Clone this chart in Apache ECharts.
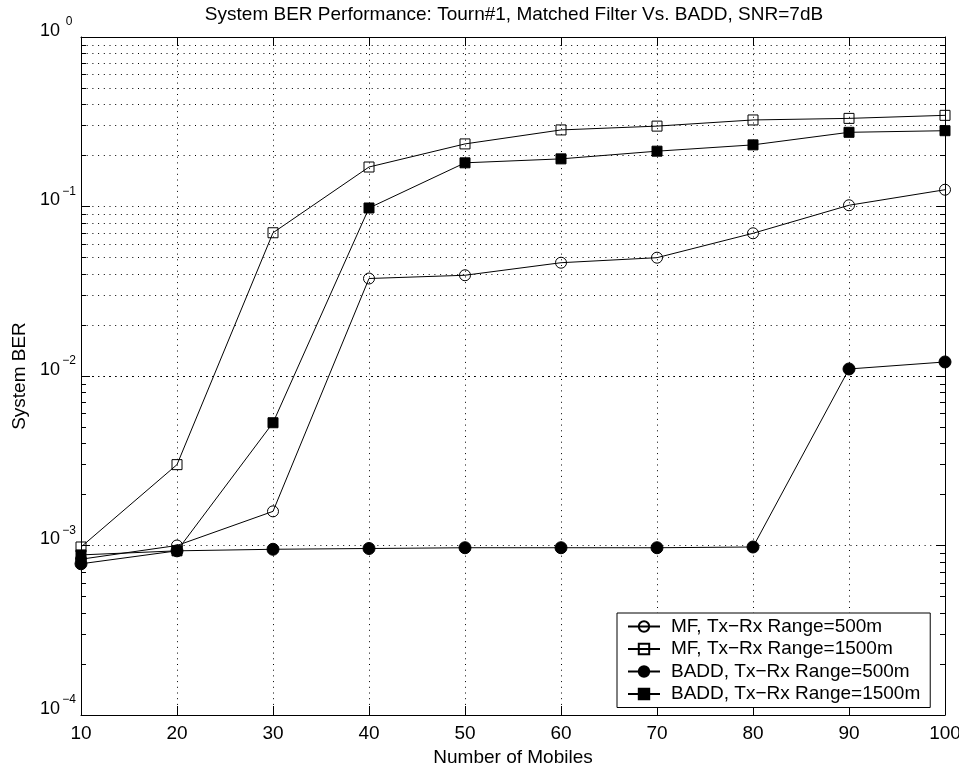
<!DOCTYPE html>
<html>
<head>
<meta charset="utf-8">
<script src="https://cdn.jsdelivr.net/npm/echarts@6/dist/echarts.min.js"></script>
<style>
  html, body { margin: 0; padding: 0; background: #fff; }
  #main { width: 959px; height: 768px; }
</style>
</head>
<body>
<div id="main"></div>
<script>
// data
const mobiles = [10, 20, 30, 40, 50, 60, 70, 80, 90, 100];
const mf500 = [0.00083, 0.00100, 0.00159, 0.0376, 0.0393, 0.0466, 0.0499, 0.0695, 0.1017, 0.1256];
const mf1500 = [0.00098, 0.0030, 0.070, 0.171, 0.234, 0.283, 0.298, 0.324, 0.331, 0.345];
const badd500 = [0.00078, 0.00093, 0.00095, 0.00096, 0.00097, 0.00097, 0.00097, 0.00098, 0.0110, 0.0121];
const badd1500 = [0.00088, 0.00093, 0.0053, 0.098, 0.181, 0.191, 0.212, 0.231, 0.274, 0.280];
const seriesNames = [
    'MF, Tx−Rx Range=500m',
    'MF, Tx−Rx Range=1500m',
    'BADD, Tx−Rx Range=500m',
    'BADD, Tx−Rx Range=1500m'
];
const yDecades = [1e-4, 1e-3, 1e-2, 1e-1, 1];
const xTicks = [10, 20, 30, 40, 50, 60, 70, 80, 90, 100];

const FONT = "'Liberation Sans', Arial, Helvetica, sans-serif";
const dots = [1, 4.7];

// minor log ticks 2..9 x decade
let minorVals = [];
for (let i = 0; i < yDecades.length - 1; i++) {
    for (let m = 2; m <= 9; m++) minorVals.push(m * yDecades[i]);
}
const xMin = xTicks[0], xMax = xTicks[xTicks.length - 1];
const minorLen = 0.52; // ~5px in x units

let minorLines = [];
minorVals.forEach(function (v) {
    minorLines.push({ yAxis: v, lineStyle: { type: dots, color: '#000', width: 1 } });
    minorLines.push([{ coord: [xMin, v], lineStyle: { type: 'solid', color: '#000', width: 1 } }, { coord: [xMin + minorLen, v] }]);
    minorLines.push([{ coord: [xMax - minorLen, v], lineStyle: { type: 'solid', color: '#000', width: 1 } }, { coord: [xMax, v] }]);
});

function pairs(ys) {
    return mobiles.map(function (x, i) { return [x, ys[i]]; });
}

function expLabel(v) {
    const e = Math.round(Math.log10(v));
    const s = e < 0 ? '−' + (-e) : String(e);
    return '{b|10}{s|' + s + '}';
}

const lineStyle = { color: '#000', width: 1 };
const openStyle = { color: 'rgba(255,255,255,0)', borderColor: '#000', borderWidth: 1 };
const fillStyle = { color: '#000', borderColor: '#000', borderWidth: 1 };

const myChart = echarts.init(document.getElementById('main'));
const option = {
    animation: false,
    backgroundColor: '#fff',
    textStyle: { fontFamily: FONT, color: '#000' },
    title: {
        text: 'System BER Performance: Tourn#1, Matched Filter Vs. BADD, SNR=7dB',
        left: 514,
        top: 5,
        padding: 0,
        textAlign: 'center',
        textStyle: { fontFamily: FONT, fontSize: 19, fontWeight: 'normal', color: '#000' }
    },
    grid: { left: 81, right: 14, top: 37, bottom: 53, outerBoundsMode: 'none', containLabel: false },
    legend: {
        data: seriesNames,
        orient: 'vertical',
        left: 617,
        top: 613,
        itemWidth: 32,
        itemHeight: 13,
        itemGap: 3.5,
        padding: [4, 10, 4, 10],
        backgroundColor: '#fff',
        borderColor: '#000',
        borderWidth: 1,
        borderRadius: 0,
        z: 10,
        textStyle: { fontFamily: FONT, fontSize: 19, color: '#000', padding: [0, 0, 0, 6] }
    },
    xAxis: [{
        type: 'value',
        min: 10, max: 100, interval: 10,
        name: 'Number of Mobiles',
        nameLocation: 'middle',
        nameGap: 22,
        nameTextStyle: { fontFamily: FONT, fontSize: 19, color: '#000' },
        axisLine: { lineStyle: { color: '#000', width: 1 } },
        axisTick: { inside: true, length: 9, lineStyle: { color: '#000' } },
        axisLabel: { margin: 9, fontFamily: FONT, fontSize: 19, color: '#000' },
        splitLine: { show: true, lineStyle: { type: dots, color: '#000', width: 1 } }
    }, {
        type: 'value',
        position: 'top',
        min: 10, max: 100, interval: 10,
        axisLine: { lineStyle: { color: '#000', width: 1 } },
        axisTick: { inside: true, length: 9, lineStyle: { color: '#000' } },
        axisLabel: { show: false },
        splitLine: { show: false }
    }],
    yAxis: [{
        type: 'log',
        logBase: 10,
        min: 1e-4, max: 1,
        name: 'System BER',
        nameLocation: 'middle',
        nameGap: 52,
        nameTextStyle: { fontFamily: FONT, fontSize: 19, color: '#000' },
        axisLine: { lineStyle: { color: '#000', width: 1 } },
        axisTick: { inside: true, length: 9, lineStyle: { color: '#000' } },
        axisLabel: {
            margin: 3,
            formatter: expLabel,
            rich: {
                b: { fontFamily: FONT, fontSize: 18, lineHeight: 18, color: '#000', verticalAlign: 'bottom', padding: [0, 0, 6, 0] },
                s: { fontFamily: FONT, fontSize: 12, lineHeight: 12, color: '#000', verticalAlign: 'bottom', width: 18, align: 'left', padding: [0, 0, 18, 0] }
            }
        },
        splitLine: { show: true, lineStyle: { type: dots, color: '#000', width: 1 } }
    }, {
        type: 'log',
        logBase: 10,
        min: 1e-4, max: 1,
        position: 'right',
        axisLine: { lineStyle: { color: '#000', width: 1 } },
        axisTick: { inside: true, length: 9, lineStyle: { color: '#000' } },
        axisLabel: { show: false },
        splitLine: { show: false }
    }],
    series: [{
        name: 'minor',
        type: 'line',
        data: [],
        silent: true,
        z: 1,
        markLine: {
            silent: true,
            z: 1,
            symbol: 'none',
            label: { show: false },
            animation: false,
            data: minorLines
        }
    }, {
        name: seriesNames[0],
        type: 'line',
        data: pairs(mf500),
        symbol: 'circle',
        symbolSize: 11,
        lineStyle: lineStyle,
        itemStyle: openStyle,
        z: 3
    }, {
        name: seriesNames[1],
        type: 'line',
        data: pairs(mf1500),
        symbol: 'rect',
        symbolSize: 10,
        lineStyle: lineStyle,
        itemStyle: openStyle,
        z: 3
    }, {
        name: seriesNames[2],
        type: 'line',
        data: pairs(badd500),
        symbol: 'circle',
        symbolSize: 12,
        lineStyle: lineStyle,
        itemStyle: fillStyle,
        z: 4
    }, {
        name: seriesNames[3],
        type: 'line',
        data: pairs(badd1500),
        symbol: 'rect',
        symbolSize: 10,
        lineStyle: lineStyle,
        itemStyle: fillStyle,
        z: 4
    }]
};
myChart.setOption(option);
</script>
</body>
</html>
